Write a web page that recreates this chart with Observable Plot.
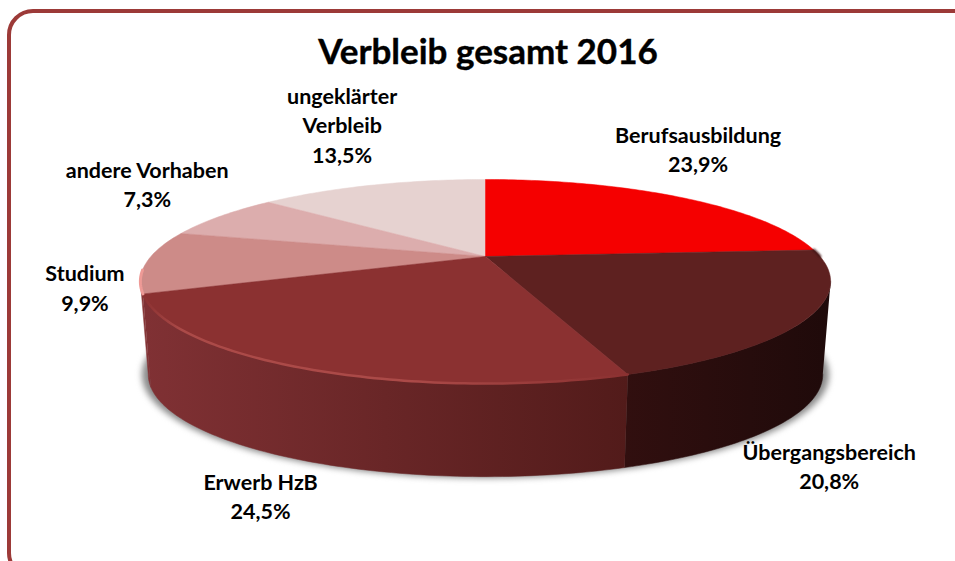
<!DOCTYPE html>
<html lang="de">
<head>
<meta charset="utf-8">
<script src="https://cdn.jsdelivr.net/npm/d3@7"></script>
<script src="https://cdn.jsdelivr.net/npm/@observablehq/plot@0.6"></script>
<style>
html,body{margin:0;padding:0;background:#fff;width:955px;height:561px;overflow:hidden}
#page{position:relative;width:955px;height:561px;overflow:hidden;font-family:Lato,"Open Sans",sans-serif}
#frame{position:absolute;left:7px;top:9px;width:975px;height:570px;box-sizing:border-box;border:4px solid #9c3a38;border-radius:26px}
#title{position:absolute;left:0;top:27px;width:976px;text-align:center;font-size:35px;line-height:46px;font-weight:700;color:#000;-webkit-text-stroke:0.4px #000}
#chart{position:absolute;left:0;top:72px}
</style>
</head>
<body>
<div id="page">
  <div id="frame"></div>
  <div id="title">Verbleib gesamt 2016</div>
  <div id="chart"></div>
</div>
<script>
const categories = ["Berufsausbildung","Übergangsbereich","Erwerb HzB","Studium","andere Vorhaben","ungeklärter\nVerbleib"];
const shares = [23.9,20.8,24.5,9.9,7.3,13.5];
const topColors = ["#f50000","#5e2120","#8b3131","#cd8b88","#dcadad","#e6d2d0"];
const wallStops = [
  ["#7a1010","#7a1010"],
  ["#310f0f","#1f0a0a"],
  ["#803134","#521b1a"],
  ["#8a3a3a","#803134"],
  ["#b58a8a","#b58a8a"],
  ["#c0a8a6","#c0a8a6"]
];
const labelDx = [19,21,-43,-62,-73,-30];
const labelDy = [-49,147.5,127,25,-33,-61];

// perspective disc model
const cx = 485, topY = 256, bottomY = 349, persp = 0.245;
const topA = 334.6, topK = 95.9, bottomA = 327, bottomK = 96;
const tangentRight = 104, tangentLeft = 256;
const rad = d => d * Math.PI / 180;
const project = (deg, A, K, y0) => {
  const s = Math.sin(rad(deg)), c = Math.cos(rad(deg)), n = 1 + persp * c;
  return {x: cx + A * s / n, y: y0 - K * c / n};
};
const onTop = d => project(d, topA, topK, topY);
const onBottom = d => project(d, bottomA, bottomK, bottomY);
const arc = (a0, a1, f) => {
  const n = Math.max(2, Math.ceil(Math.abs(a1 - a0)));
  return d3.range(n + 1).map(i => f(a0 + (a1 - a0) * i / n));
};

let running = 0;
const slices = shares.map((v, i) => {
  const a0 = running / 100 * 360;
  running += v;
  const a1 = i === shares.length - 1 ? 360 : running / 100 * 360;
  return {i, a0, a1, mid: (a0 + a1) / 2, v};
});

const defs = () => {
  const svg = d3.create("svg:defs");
  wallStops.forEach((s, i) => {
    const g = svg.append("linearGradient").attr("id", "wall" + i);
    g.append("stop").attr("offset", 0).attr("stop-color", s[0]);
    g.append("stop").attr("offset", 1).attr("stop-color", s[1]);
  });
  const r = svg.append("linearGradient").attr("id", "rim");
  [[0,"#8b3131"],[0.08,"#ab4a48"],[0.55,"#ab4a48"],[1,"#8b3131"]].forEach(([o,c]) =>
    r.append("stop").attr("offset", o).attr("stop-color", c));
  return svg.node();
};
const blur = px => (index, scales, values, dims, ctx, next) => {
  const g = next(index, scales, values, dims, ctx);
  g.style.filter = `blur(${px}px)`;
  return g;
};

const marks = [defs];
// soft shadow under the disc
marks.push(Plot.line(arc(0, 360, d => project(d, bottomA + 6, bottomK + 1, bottomY)), {
  x: "x", y: "y", fill: "#8a8a8a", stroke: "none", render: blur(3)
}));
// side walls, between the two silhouette tangents
slices.forEach(s => {
  const a0 = Math.max(s.a0, tangentRight), a1 = Math.min(s.a1, tangentLeft);
  if (a1 <= a0) return;
  const pts = [...arc(a0, a1, onTop), ...arc(a1, a0, onBottom)];
  marks.push(Plot.line(pts, {x: "x", y: "y", fill: `url(#wall${s.i})`, stroke: `url(#wall${s.i})`, strokeWidth: 0.5}));
});
// top faces
const order = [5, 4, 3, 0, 1, 2];
order.forEach(i => {
  const s = slices[i];
  const pts = [{x: cx, y: topY}, ...arc(s.a0, s.a1, onTop), {x: cx, y: topY}];
  marks.push(Plot.line(pts, {x: "x", y: "y", fill: topColors[i], stroke: topColors[i], strokeWidth: 0.5}));
});
// bevel highlights on the front rim
marks.push(Plot.line(arc(slices[2].a0, slices[2].a1, onTop), {
  x: "x", y: "y", stroke: "url(#rim)", strokeWidth: 2.5, render: blur(0.7)
}));
marks.push(Plot.line(arc(slices[1].a0, tangentRight - 14, onTop), {
  x: "x", y: "y", stroke: "#431717", strokeWidth: 2.5, render: blur(1)
}));
marks.push(Plot.line(arc(slices[3].a0, slices[3].a0 + 13, onTop), {
  x: "x", y: "y", stroke: "#ee9a96", strokeWidth: 3, render: blur(0.6)
}));
// labels
slices.forEach(s => {
  const p = onTop(s.mid);
  const label = `${categories[s.i]}\n${s.v.toFixed(1).replace(".", ",")}%`;
  marks.push(Plot.text([{x: p.x, y: p.y, label}], {
    x: "x", y: "y", text: "label", dx: labelDx[s.i], dy: labelDy[s.i],
    textAnchor: "middle", lineAnchor: "middle", lineHeight: 1.36,
    fontFamily: "Lato, 'Open Sans', sans-serif", fontSize: 21.5, fontWeight: 700, fill: "#000"
  }));
});

const chart = Plot.plot({
  width: 955, height: 489,
  margin: 0,
  x: {domain: [0, 955], range: [0, 955], axis: null},
  y: {domain: [72, 561], range: [0, 489], axis: null},
  style: {background: "transparent", overflow: "visible"},
  marks
});
document.getElementById("chart").append(chart);
</script>
</body>
</html>
